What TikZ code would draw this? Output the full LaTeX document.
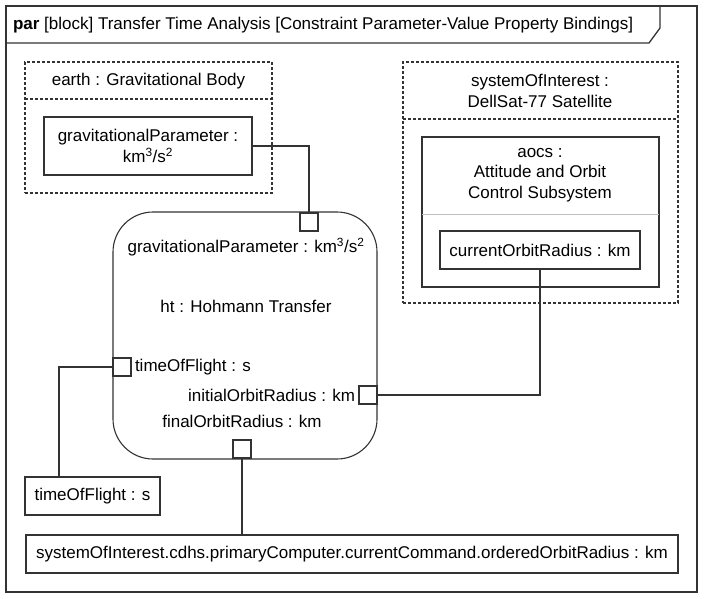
\documentclass[tikz,border=0pt]{standalone}
\usepackage{fontspec}
\setmainfont{Liberation Sans}
\usetikzlibrary{positioning}
\definecolor{ink}{HTML}{333333}

\begin{document}
\begin{tikzpicture}[
    x=1pt, y=-1pt,
    font=\fontsize{17}{20.5}\selectfont,
    every node/.style={inner sep=0pt, outer sep=0pt, text=black, align=center},
    box/.style={draw=ink, line width=1.1pt, anchor=north west},
    part/.style={box, dash pattern=on 3pt off 2pt},
    port/.style={draw=ink, line width=1.1pt, fill=white, minimum size=18pt},
    wire/.style={draw=ink, line width=1.1pt}
]
\useasboundingbox (0,0) rectangle (706,598);

% diagram frame
\draw[ink, line width=1.3pt] (6,6) rectangle (697,592);
\draw[ink, line width=1.3pt] (6,43) -- (649,43) -- (660,28) -- (660,6);
\node[anchor=west] (title) at (13,25) {\textbf{par} [block] Transfer Time Analysis [Constraint Parameter-Value Property Bindings]};

% earth
\node[part, minimum width=247, minimum height=131] (earth) at (25,62) {};
\draw[ink, line width=1.1pt, dash pattern=on 3pt off 2pt] (25,99) -- (272,99);
\node at (148.5,81) {earth : Gravitational Body};
\node[box, minimum width=208, minimum height=58, anchor=center] (gp) at (148,146)
    {gravitationalParameter :\\km\textsuperscript{3}/s\textsuperscript{2}};

% systemOfInterest
\node[part, minimum width=275, minimum height=241] (sys) at (403,62) {};
\draw[ink, line width=1.1pt, dash pattern=on 3pt off 2pt] (403,119) -- (678,119);
\node at (540,91) {systemOfInterest :\\DellSat-77 Satellite};
\node[box, minimum width=237, minimum height=150] (aocs) at (422,137) {};
\draw[gray!50, line width=0.8pt] (422,214) -- (659,214);
\node at (540,175) {aocs :\\Attitude and Orbit\\Control Subsystem};
\node[box, minimum width=200, minimum height=38, anchor=center] (cor) at (540,250) {currentOrbitRadius : km};

% ht
\node[box, rounded corners=40pt, minimum width=264, minimum height=247] (ht) at (113,212) {};
\node at (246,247) {gravitationalParameter : km\textsuperscript{3}/s\textsuperscript{2}};
\node at (246,306) {ht : Hohmann Transfer};
\node[port] (pGrav) at (309,222) {};
\node[port] (pTime) at (122,367) {};
\node[port] (pInit) at (368,395) {};
\node[port] (pFinal) at (242,449) {};
\node[right=4pt of pTime] {timeOfFlight : s};
\node[left=4pt of pInit] {initialOrbitRadius : km};
\node[above=12pt of pFinal] {finalOrbitRadius : km};

% bound values
\node[box, minimum width=135, minimum height=38] (tof) at (25,477) {timeOfFlight : s};
\node[box, minimum width=652, minimum height=38] (orr) at (26,535)
    {systemOfInterest.cdhs.primaryComputer.currentCommand.orderedOrbitRadius : km};
\coordinate (tofTop) at (59,477);

% bindings
\draw[wire] (gp.east) -| (pGrav.north);
\draw[wire] (cor.south) |- (pInit.east);
\draw[wire] (pTime.west) -| (tofTop);
\draw[wire] (pFinal.south) -- (pFinal.south |- orr.north);
\end{tikzpicture}
\end{document}
